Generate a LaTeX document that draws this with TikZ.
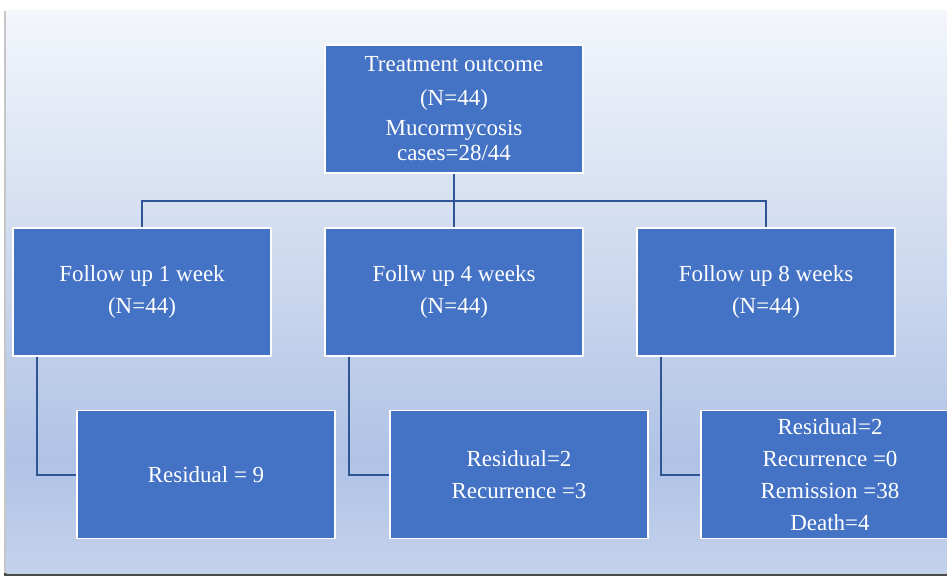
\documentclass[tikz,border=0pt]{standalone}
\usepackage{fontspec}
\setmainfont{Liberation Serif}
\definecolor{boxblue}{RGB}{68,114,196}
\definecolor{linkblue}{RGB}{47,85,151}
\definecolor{bgtop}{RGB}{243,246,251}
\definecolor{bgmid}{RGB}{176,195,229}
\definecolor{bgbot}{RGB}{196,210,236}
\pgfdeclareverticalshading{panelbg}{100bp}{color(0bp)=(bgbot); color(25bp)=(bgbot); color(35bp)=(bgmid); color(75bp)=(bgtop); color(100bp)=(bgtop)}
\tikzset{
  flowbox/.style={rectangle, fill=boxblue, draw=white, line width=1.6pt,
    minimum width=258pt, minimum height=128pt, inner sep=0pt,
    text=white, align=center, font=\fontsize{23}{32}\selectfont},
  link/.style={draw=linkblue, line width=2pt}
}
\begin{document}
\begin{tikzpicture}[x=1pt,y=-1pt]
\useasboundingbox (0,0) rectangle (947,576);
\clip (0,0) rectangle (947,576);
% panel with shadow
\fill[gray!45] (4,11) rectangle (947,576);
\fill[black!70] (4,573) rectangle (947,576);
\shade[shading=panelbg] (6.5,10) rectangle (947,573);
% boxes
\node[flowbox] (top) at (454,109) {Treatment outcome\\[2pt](N=44)\\[-2pt]Mucormycosis\\[-7pt]cases=28/44};
\node[flowbox] (m1) at (142,292) {Follow up 1 week\\(N=44)};
\node[flowbox] (m2) at (454,292) {Follw up 4 weeks\\(N=44)};
\node[flowbox] (m3) at (766,292) {Follow up 8 weeks\\(N=44)};
\node[flowbox] (b1) at (206,474.5) {Residual = 9};
\node[flowbox] (b2) at (519,474.5) {Residual=2\\Recurrence =3};
\node[flowbox] (b3) at (830,474.5) {Residual=2\\Recurrence =0\\Remission =38\\Death=4};
% connectors
\coordinate (hub) at (454,201);
\draw[link] (top.south) -- (m2.north);
\draw[link] (hub) -| (m1.north);
\draw[link] (hub) -| (m3.north);
\draw[link] ([xshift=25pt]m1.south west) |- (b1.west);
\draw[link] ([xshift=25pt]m2.south west) |- (b2.west);
\draw[link] ([xshift=25pt]m3.south west) |- (b3.west);
\end{tikzpicture}
\end{document}
